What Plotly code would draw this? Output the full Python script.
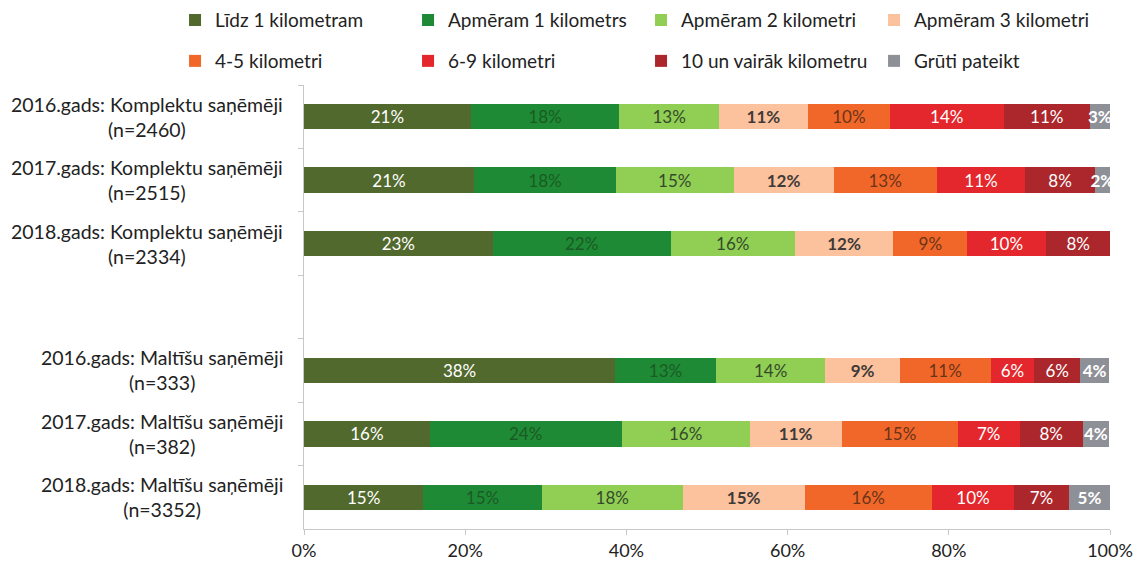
import plotly.graph_objects as go

# ---------------- data ----------------
categories = [
    "2016.gads: Komplektu saņēmēji<br>(n=2460)",
    "2017.gads: Komplektu saņēmēji<br>(n=2515)",
    "2018.gads: Komplektu saņēmēji<br>(n=2334)",
    " ",
    "2016.gads: Maltīšu saņēmēji<br>(n=333)",
    "2017.gads: Maltīšu saņēmēji<br>(n=382)",
    "2018.gads: Maltīšu saņēmēji<br>(n=3352)",
]

series_names = [
    "Līdz 1 kilometram",
    "Apmēram 1 kilometrs",
    "Apmēram 2 kilometri",
    "Apmēram 3 kilometri",
    "4-5 kilometri",
    "6-9 kilometri",
    "10 un vairāk kilometru",
    "Grūti pateikt",
]

lidz_1km = [20.7, 21.1, 23.4, None, 38.6, 15.6, 14.8]
apm_1km = [18.4, 17.6, 22.1, None, 12.5, 23.8, 14.7]
apm_2km = [12.4, 14.6, 15.4, None, 13.6, 15.9, 17.5]
apm_3km = [11.0, 12.4, 12.2, None, 9.2, 11.4, 15.1]
km_4_5 = [10.2, 12.8, 9.2, None, 11.3, 14.4, 15.8]
km_6_9 = [14.1, 11.0, 9.7, None, 5.4, 7.7, 10.2]
km_10plus = [10.7, 8.6, 8.1, None, 5.7, 7.8, 6.8]
gruti = [2.5, 1.9, 0.0, None, 3.6, 3.3, 5.1]

lidz_1km_lbl = ["21%", "21%", "23%", "", "38%", "16%", "15%"]
apm_1km_lbl = ["18%", "18%", "22%", "", "13%", "24%", "15%"]
apm_2km_lbl = ["13%", "15%", "16%", "", "14%", "16%", "18%"]
apm_3km_lbl = ["11%", "12%", "12%", "", "9%", "11%", "15%"]
km_4_5_lbl = ["10%", "13%", "9%", "", "11%", "15%", "16%"]
km_6_9_lbl = ["14%", "11%", "10%", "", "6%", "7%", "10%"]
km_10plus_lbl = ["11%", "8%", "8%", "", "6%", "8%", "7%"]
gruti_lbl = ["3%", "2%", "", "", "4%", "4%", "5%"]

x_ticks = [0, 20, 40, 60, 80, 100]
x_tick_labels = ["0%", "20%", "40%", "60%", "80%", "100%"]

# ---------------- styles ----------------
values = [lidz_1km, apm_1km, apm_2km, apm_3km, km_4_5, km_6_9, km_10plus, gruti]
labels = [lidz_1km_lbl, apm_1km_lbl, apm_2km_lbl, apm_3km_lbl,
          km_4_5_lbl, km_6_9_lbl, km_10plus_lbl, gruti_lbl]
colors = ["#52692d", "#1f8a35", "#90ce54", "#fcc29e",
          "#f1672a", "#e3272c", "#ab272c", "#8e9098"]
text_colors = ["#ffffff", "#1a5a24", "#354a2c", "#3f3a38",
               "#6a3418", "#ffffff", "#ffffff", "#ffffff"]
text_weights = ["normal", "normal", "normal", "bold",
                "normal", "normal", "normal", "bold"]
legend_ids = ["legend", "legend", "legend", "legend",
              "legend2", "legend2", "legend2", "legend2"]

FONT = "Lato, 'Open Sans', sans-serif"

fig = go.Figure()
for name, vals, lbls, col, tcol, tw, lg in zip(series_names, values, labels,
                                               colors, text_colors, text_weights,
                                               legend_ids):
    fig.add_trace(go.Bar(
        name=name,
        y=categories,
        x=vals,
        orientation="h",
        marker=dict(color=col, line=dict(width=0)),
        text=lbls,
        textposition="inside",
        insidetextanchor="middle",
        textangle=0,
        textfont=dict(color=tcol, size=17, family=FONT, weight=tw),
        cliponaxis=True,
        legend=lg,
        hoverinfo="skip",
    ))

# category labels, centred two-line text left of the axis
annotations = []
for cat in categories:
    if cat.strip() == "":
        continue
    annotations.append(dict(
        x=-0.024, xref="paper", xanchor="right",
        y=cat, yref="y", yanchor="middle",
        text=cat, showarrow=False, align="center",
        font=dict(size=19.5, color="#222222", family=FONT),
    ))

legend_common = dict(
    orientation="h",
    xanchor="left",
    yanchor="middle",
    font=dict(size=19, color="#222222", family=FONT),
    entrywidth=188,
    entrywidthmode="pixels",
    itemwidth=30,
    bgcolor="rgba(0,0,0,0)",
    traceorder="normal",
)

# the page body adds an 8px offset, so the figure is 8px smaller than the window
fig.update_layout(
    width=1133,
    height=556,
    margin=dict(l=296, r=31, t=77, b=35, autoexpand=False),
    barmode="stack",
    bargap=0.6,
    plot_bgcolor="#ffffff",
    paper_bgcolor="#ffffff",
    font=dict(family=FONT, color="#222222"),
    uniformtext=dict(minsize=17, mode="show"),
    showlegend=True,
    legend=dict(x=-0.160, y=1.146, **legend_common),
    legend2=dict(x=-0.160, y=1.054, **legend_common),
    annotations=annotations,
    xaxis=dict(
        range=[0, 100],
        tickvals=x_ticks,
        ticktext=x_tick_labels,
        showgrid=False,
        zeroline=False,
        showline=True,
        linecolor="#c8c8c8",
        linewidth=1,
        ticks="outside",
        ticklen=5,
        tickcolor="#c8c8c8",
        tickfont=dict(size=18, color="#222222", family=FONT),
        fixedrange=True,
        automargin=False,
    ),
    yaxis=dict(
        type="category",
        categoryorder="array",
        categoryarray=categories,
        autorange="reversed",
        showticklabels=False,
        showgrid=False,
        zeroline=False,
        showline=True,
        linecolor="#c8c8c8",
        linewidth=1,
        ticks="outside",
        tickson="boundaries",
        ticklen=5,
        tickcolor="#c8c8c8",
        fixedrange=True,
        automargin=False,
    ),
)

fig.write_html("out.html")
